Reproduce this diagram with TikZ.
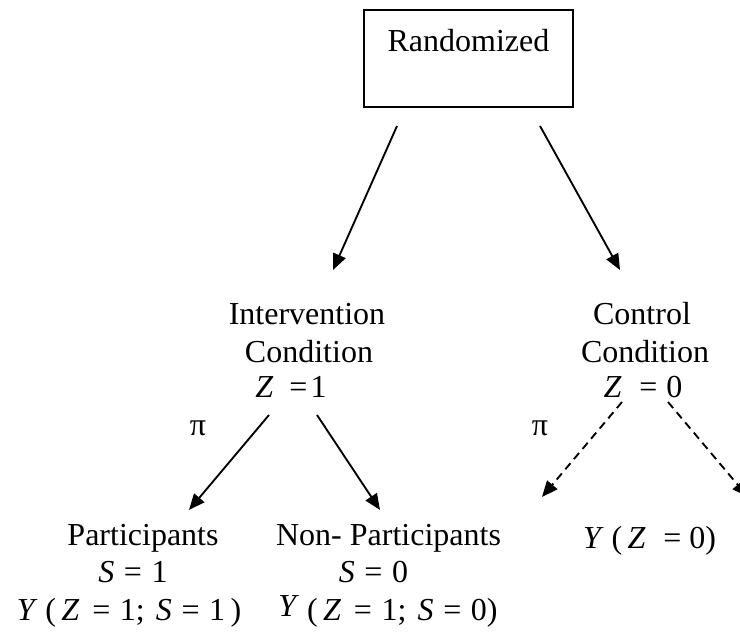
\documentclass[tikz,border=0pt]{standalone}
\usepackage{fontspec}
\setmainfont{Liberation Serif}
\usetikzlibrary{arrows.meta}

\begin{document}
\begin{tikzpicture}[x=0.375pt,y=-0.375pt,
      font=\fontsize{12}{14}\selectfont,
      txt/.style={anchor=base,inner sep=0pt},
      box/.style={draw,line width=0.8pt,minimum width=78.4pt,inner sep=0pt,
        text height=15.75pt,text depth=20.6pt},
      arr/.style={line width=0.7pt,-{Triangle[length=6pt,width=5pt]}},
      darr/.style={arr,dash pattern=on 3pt off 2pt}]
    \clip (0,0) rectangle (740,637);
    % --- randomisation ---
    \node[box,txt] (rand) at (468.5,52) {Randomized};
    % --- conditions ---
    \foreach \n/\x/\y/\t in {%
        int1/307/325/{Intervention}, int2/309/362/{Condition},
        int3/291/397/{\textit{Z}\hspace{0.5em}=\hspace{0.1em}1},
        con1/642/325/{Control}, con2/645/362/{Condition},
        con3/643/397/{\textit{Z}\hspace{0.55em}=\hspace{0.28em}0}}{
      \node[txt] (\n) at (\x,\y) {\t};
    }
    \node[txt] (pi1) at (198,435) {π};
    \node[txt] (pi2) at (540,435) {π};
    % --- outcomes ---
    \foreach \n/\x/\y/\t in {%
        par1/143/545/{Participants},
        par2/133/582/{\textit{S}\hspace{0.3em}=\hspace{0.3em}1},
        par3/129/620/{\textit{Y} (\,\textit{Z}\hspace{0.4em}=\hspace{0.3em}1;\hspace{0.35em}\textit{S}\hspace{0.3em}=\hspace{0.3em}1\,)},
        non1/388.5/545/{Non- Participants},
        non2/373.5/582/{\textit{S}\hspace{0.3em}=\hspace{0.3em}0},
        non3/388/620/{\raisebox{1.2pt}{\textit{Y}} (\,\textit{Z}\hspace{0.4em}=\hspace{0.3em}1;\hspace{0.35em}\textit{S}\hspace{0.3em}=\hspace{0.3em}0)},
        cy/649.5/548/{\textit{Y} (\,\textit{Z}\hspace{0.55em}=\hspace{0.25em}0)}}{
      \node[txt] (\n) at (\x,\y) {\t};
    }
    % --- arrow ends ---
    \foreach \n/\x/\y in {a1/397/126, a2/333/270, b1/540/126, b2/620/270,
        c1/269/415, c2/189/510, d1/317/415, d2/380/510,
        e1/622/402, e2/542/497, f1/668/402, f2/748/497}{
      \coordinate (\n) at (\x,\y);
    }
    \draw[arr] (a1) -- (a2);
    \draw[arr] (b1) -- (b2);
    \draw[arr] (c1) -- (c2);
    \draw[arr] (d1) -- (d2);
    \draw[darr] (e1) -- (e2);
    \draw[darr] (f1) -- (f2);
  \end{tikzpicture}
\end{document}
